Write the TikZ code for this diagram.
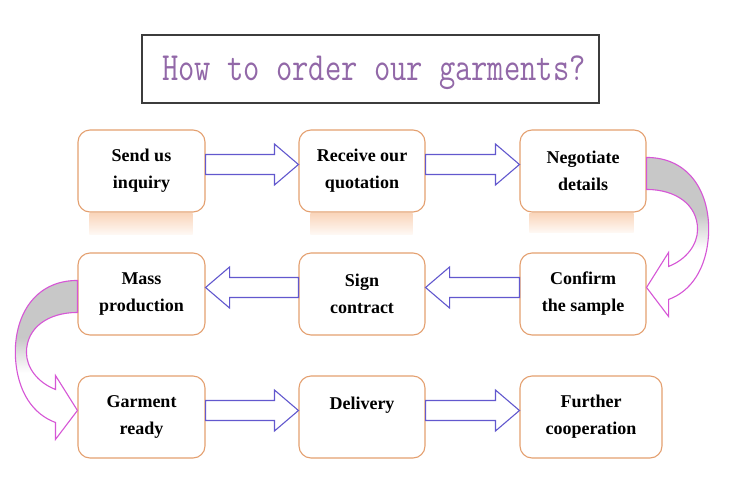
\documentclass[tikz,border=0pt]{standalone}
\usepackage{fontspec}
\usepackage{graphicx}
\setmainfont{Liberation Serif}
\usetikzlibrary{calc}
\definecolor{boxorange}{RGB}{228,160,112}
\definecolor{arrowblue}{RGB}{98,88,206}
\definecolor{curvemag}{RGB}{214,86,214}
\definecolor{titlepurple}{RGB}{146,104,168}
\definecolor{peach}{RGB}{250,214,188}
\definecolor{fadegray}{RGB}{200,200,200}
\definecolor{titleframe}{RGB}{60,60,60}
\pgfdeclareverticalshading{curvefade}{100bp}{color(0bp)=(white); color(46bp)=(white); color(57bp)=(fadegray); color(100bp)=(fadegray)}
\newcommand\rblock[2]{%
  \draw[barrow] let \p1=($(#1.east)+(0,-6.5)$), \p2=($(#2.west)+(0,-6.5)$) in
    (\x1,\y1+10pt) -- (\x2-24pt,\y1+10pt) -- (\x2-24pt,\y1+20.5pt) -- (\x2,\y1)
    -- (\x2-24pt,\y1-20.5pt) -- (\x2-24pt,\y1-10pt) -- (\x1,\y1-10pt) -- cycle;}
\newcommand\lblock[2]{%
  \draw[barrow] let \p1=($(#1.west)+(0,-6.5)$), \p2=($(#2.east)+(0,-6.5)$) in
    (\x1,\y1+10pt) -- (\x2+24pt,\y1+10pt) -- (\x2+24pt,\y1+20.5pt) -- (\x2,\y1)
    -- (\x2+24pt,\y1-20.5pt) -- (\x2+24pt,\y1-10pt) -- (\x1,\y1-10pt) -- cycle;}
\newcommand\curvearrowpath{(0,0) .. controls (44,0) and (64,37) .. (62,77)
  .. controls (60,112) and (44,134) .. (22,142) -- (22,159) -- (0,130) -- (22,95)
  -- (22,109) .. controls (40,102) and (51,87) .. (51,72)
  .. controls (51,47) and (29,32) .. (0,32) -- cycle}
\tikzset{
  stepbox/.style={draw=boxorange, line width=1.1pt, rounded corners=12pt, fill=white,
    minimum width=127pt, minimum height=82pt, inner sep=0pt, align=center,
    font=\fontsize{18}{27}\selectfont\bfseries},
  barrow/.style={draw=arrowblue, line width=1.1pt, fill=white},
  curvearrow/.style={draw=curvemag, line width=1.1pt, shading=curvefade},
  reflect/.style={top color=peach, bottom color=peach!15, draw=none},
  titlebox/.style={draw=titleframe, line width=1.2pt, minimum width=457pt, minimum height=68pt, inner sep=0pt},
}
\begin{document}
\begin{tikzpicture}[x=1pt,y=-1pt]
\useasboundingbox[fill=white] (0,0) rectangle (750,488);
% title
\node[titlebox] (title) at (370.5,69) {};
\node[anchor=base, text=titlepurple, inner sep=0pt] (titletext) at (374,80)
  {\ttfamily\fontsize{40}{42}\selectfont\scalebox{0.79}[1]{How to order our garments?}};
% boxes
\node[stepbox] (send) at (141.5,171) {Send us\\inquiry};
\node[stepbox, minimum width=126pt] (recv) at (362,171) {Receive our\\quotation};
\node[stepbox, minimum width=126pt] (nego) at (583,171) {Negotiate\\details};
\node[stepbox, minimum width=126pt] (conf) at (583,294) {Confirm\\the sample};
\node[stepbox, minimum width=126pt] (sign) at (362,294) {Sign\\contract};
\node[stepbox] (mass) at (141.5,294) {Mass\\production};
\node[stepbox] (garm) at (141.5,417) {Garment\\ready};
\node[stepbox, minimum width=126pt] (deli) at (362,417) {Delivery\\\mbox{}};
\node[stepbox, minimum width=142pt] (furt) at (591,417) {Further\\cooperation};
% reflections
\shade[reflect] ($(send.south west)+(12,1)$) rectangle ($(send.south east)+(-13,22)$);
\shade[reflect] ($(recv.south west)+(12,1)$) rectangle ($(recv.south east)+(-13,22)$);
\shade[reflect] ($(nego.south west)+(10,1)$) rectangle ($(nego.south east)+(-13,20)$);
% straight block arrows
\rblock{send}{recv}
\rblock{recv}{nego}
\lblock{conf}{sign}
\lblock{sign}{mass}
\rblock{garm}{deli}
\rblock{deli}{furt}
% curved arrows
\begin{scope}[shift={($(nego.north east)+(0,28)$)}]
  \shadedraw[curvearrow] \curvearrowpath;
\end{scope}
\begin{scope}[shift={($(mass.north west)+(0,28)$)}, xscale=-1]
  \shadedraw[curvearrow] \curvearrowpath;
\end{scope}
\end{tikzpicture}
\end{document}
